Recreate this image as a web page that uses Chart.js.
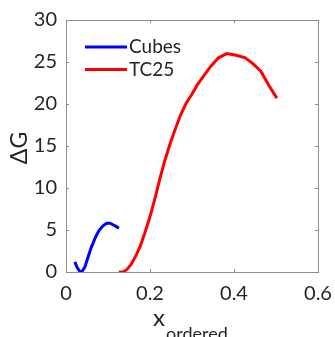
<!DOCTYPE html>
<html>
<head>
<meta charset="utf-8">
<script src="https://cdn.jsdelivr.net/npm/chart.js@4/dist/chart.umd.min.js"></script>
<style>
  html, body { margin: 0; padding: 0; background: #fff; }
  #wrap { width: 335px; height: 337px; }
</style>
</head>
<body>
<div id="wrap"><canvas id="c" width="335" height="337"></canvas></div>
<script>
// data
const seriesNames = ['Cubes', 'TC25'];
const cubesX = [0.021, 0.027, 0.033, 0.038, 0.045, 0.052, 0.060, 0.069, 0.078, 0.088, 0.097, 0.105, 0.113, 0.120, 0.126];
const cubesY = [1.2, 0.5, 0.05, 0.05, 0.6, 1.7, 2.9, 4.0, 4.9, 5.5, 5.8, 5.8, 5.6, 5.4, 5.2];
const tc25X = [0.126, 0.136, 0.145, 0.155, 0.166, 0.177, 0.188, 0.200, 0.212, 0.224, 0.236, 0.248, 0.260, 0.272, 0.285, 0.299, 0.313, 0.327, 0.345, 0.363, 0.383, 0.405, 0.427, 0.445, 0.464, 0.482, 0.502];
const tc25Y = [0, 0, 0.3, 0.9, 1.9, 3.1, 4.7, 6.6, 8.8, 11.2, 13.4, 15.3, 17.0, 18.6, 20.0, 21.1, 22.3, 23.3, 24.5, 25.5, 26.0, 25.8, 25.5, 24.8, 23.9, 22.3, 20.7];
const xTicks = [0, 0.2, 0.4, 0.6];
const yTicks = [0, 5, 10, 15, 20, 25, 30];
const colors = ['#0000ff', '#ff0000'];

const txt = '#262626';
const fontFam = 'Lato, "Open Sans", sans-serif';

function pts(xs, ys) {
  return xs.map((x, i) => ({ x: x, y: ys[i] }));
}

// frame, inward ticks, legend and axis titles (MATLAB look)
const decor = {
  id: 'decor',
  afterDraw(chart) {
    const ctx = chart.ctx;
    const a = chart.chartArea;
    const xs = chart.scales.x, ys = chart.scales.y;
    ctx.save();
    ctx.strokeStyle = '#8c8c8c';
    ctx.lineWidth = 1;
    ctx.strokeRect(Math.round(a.left) + 0.5, Math.round(a.top) + 0.5, Math.round(a.right - a.left), Math.round(a.bottom - a.top));
    ctx.beginPath();
    xTicks.forEach(v => {
      const p = Math.round(xs.getPixelForValue(v)) + 0.5;
      ctx.moveTo(p, a.bottom); ctx.lineTo(p, a.bottom - 3);
      ctx.moveTo(p, a.top); ctx.lineTo(p, a.top + 3);
    });
    yTicks.forEach(v => {
      const p = Math.round(ys.getPixelForValue(v)) + 0.5;
      ctx.moveTo(a.left, p); ctx.lineTo(a.left + 3, p);
      ctx.moveTo(a.right, p); ctx.lineTo(a.right - 3, p);
    });
    ctx.stroke();

    // legend inside the axes
    ctx.font = '19px ' + fontFam;
    ctx.textBaseline = 'middle';
    ctx.textAlign = 'left';
    seriesNames.forEach((name, i) => {
      const y = a.top + 27 + i * 22.5;
      ctx.strokeStyle = colors[i];
      ctx.lineWidth = 3;
      ctx.beginPath();
      ctx.moveTo(a.left + 19, y); ctx.lineTo(a.left + 61, y);
      ctx.stroke();
      ctx.fillStyle = txt;
      ctx.fillText(name, a.left + 63, y);
    });

    // y title
    ctx.fillStyle = txt;
    ctx.font = '23px ' + fontFam;
    ctx.translate(20, (a.top + a.bottom) / 2 + 2);
    ctx.rotate(-Math.PI / 2);
    ctx.textAlign = 'center';
    ctx.fillText('\u0394G', 0, 0);
    ctx.restore();

    // x title with subscript
    ctx.save();
    ctx.fillStyle = txt;
    ctx.textBaseline = 'alphabetic';
    ctx.textAlign = 'left';
    ctx.font = '24px ' + fontFam;
    ctx.fillText('x', 153, 326);
    ctx.font = '18px ' + fontFam;
    ctx.fillText('ordered', 166, 340);
    ctx.restore();
  }
};

new Chart(document.getElementById('c'), {
  type: 'scatter',
  data: {
    datasets: [
      { label: seriesNames[0], data: pts(cubesX, cubesY), borderColor: colors[0], backgroundColor: colors[0], showLine: true, pointRadius: 0, borderWidth: 3 },
      { label: seriesNames[1], data: pts(tc25X, tc25Y), borderColor: colors[1], backgroundColor: colors[1], showLine: true, pointRadius: 0, borderWidth: 3 }
    ]
  },
  options: {
    responsive: false,
    animation: false,
    layout: { padding: { top: 20, right: 17, left: 0, bottom: 0 } },
    plugins: { legend: { display: false }, tooltip: { enabled: false } },
    scales: {
      x: {
        type: 'linear', min: 0, max: 0.6,
        afterBuildTicks: s => { s.ticks = xTicks.map(v => ({ value: v })); },
        afterFit: s => { s.height = 65; s.paddingLeft = 0; s.paddingRight = 0; },
        grid: { display: false, drawTicks: false },
        border: { display: false },
        ticks: { color: txt, padding: 10, font: { family: fontFam, size: 20 }, maxRotation: 0, callback: v => String(v) }
      },
      y: {
        type: 'linear', min: 0, max: 30,
        afterBuildTicks: s => { s.ticks = yTicks.map(v => ({ value: v })); },
        afterFit: s => { s.width = 66; s.paddingTop = 0; s.paddingBottom = 0; },
        grid: { display: false, drawTicks: false },
        border: { display: false },
        ticks: { color: txt, padding: 9, font: { family: fontFam, size: 20 }, callback: v => String(v) }
      }
    }
  },
  plugins: [decor]
});
</script>
</body>
</html>
